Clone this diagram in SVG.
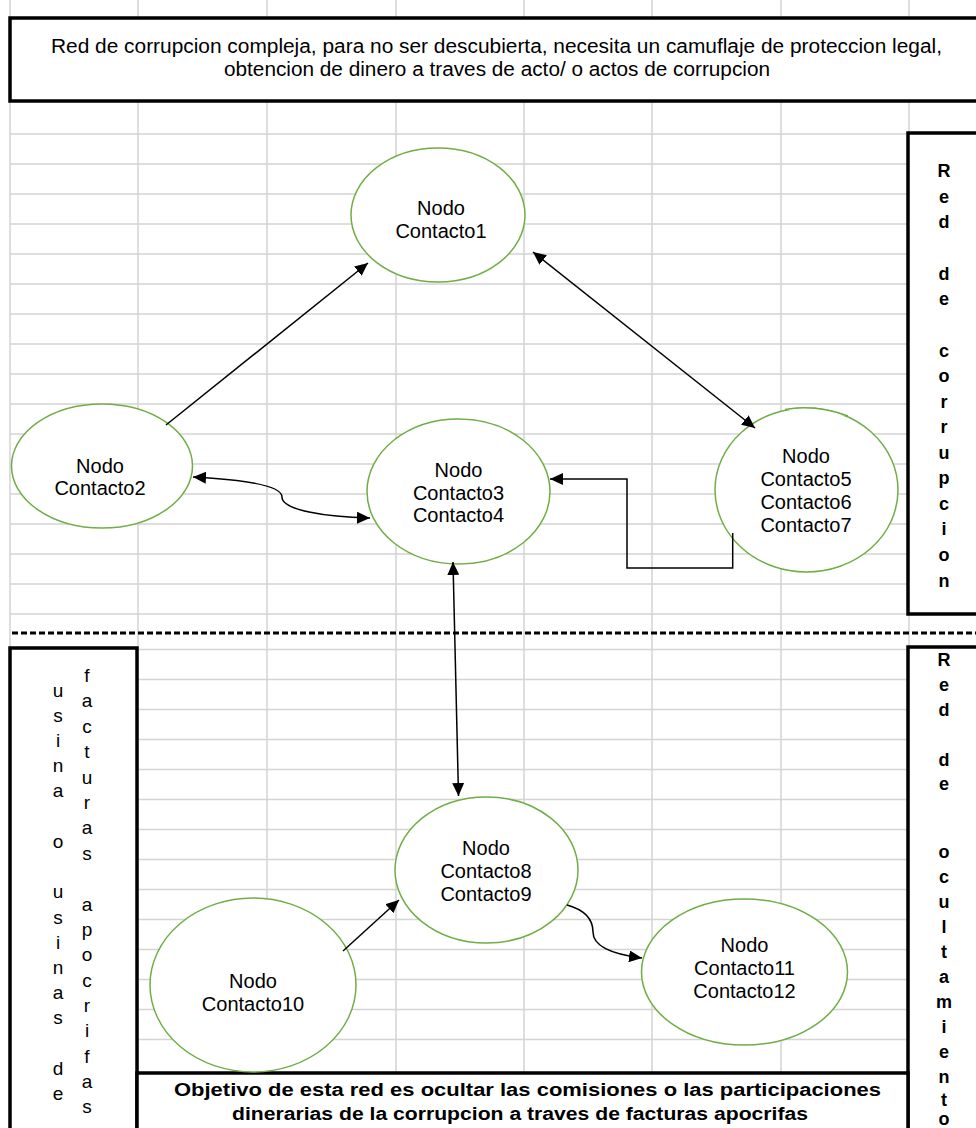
<svg xmlns="http://www.w3.org/2000/svg" width="976" height="1128" viewBox="0 0 976 1128">
<style>
.grid{stroke:#d4d4d4;stroke-width:1.5;fill:none}
.box{fill:#fff;stroke:#000;stroke-width:3.5}
.node{fill:#fff;stroke:#71ad47;stroke-width:1.5}
.nt{font-family:"Liberation Sans",Arial,sans-serif;font-size:20px;fill:#000;text-anchor:middle}
.hd{font-family:"Liberation Sans",Arial,sans-serif;font-size:20px;fill:#000;text-anchor:middle}
.bt{font-family:"Liberation Sans",Arial,sans-serif;font-size:18px;font-weight:bold;fill:#000;text-anchor:middle}
.vt{font-family:"Liberation Sans",Arial,sans-serif;font-size:19px;fill:#000;text-anchor:middle}
.vb{font-family:"Liberation Sans",Arial,sans-serif;font-size:18px;font-weight:bold;fill:#000;text-anchor:middle}
.con{fill:none;stroke:#000;stroke-width:1.5}
</style>
<defs>
<marker id="ah" markerUnits="userSpaceOnUse" markerWidth="14" markerHeight="12" refX="13" refY="6" orient="auto-start-reverse">
<path d="M0,0 L13,6 L0,12 z" fill="#000"/>
</marker>
</defs>
<rect width="976" height="1128" fill="#fff"/>
<g id="grid" class="grid">
<path d="M10,0V1128M138,0V1128M267,0V1128M396,0V1128M524,0V1128M652,0V1128M781,0V1128M909,0V1128"/>
<path d="M10,134H976M10,164H976M10,194H976M10,224H976M10,254H976M10,284H976M10,314H976M10,344H976M10,374H976M10,404H976M10,434H976M10,464H976M10,494H976M10,524H976M10,554H976M10,584H976M10,614H976"/>
<path d="M10,649.5H976M10,679.5H976M10,709.5H976M10,739.5H976M10,769.5H976M10,799.5H976M10,829.5H976M10,859.5H976M10,889.5H976M10,919.5H976M10,949.5H976M10,979.5H976M10,1009.5H976M10,1039.5H976"/>
</g>
<g id="header">
<rect class="box" x="10" y="18" width="980" height="83"/>
<text class="hd" x="496.5" y="53" textLength="891" lengthAdjust="spacingAndGlyphs">Red de corrupcion compleja, para no ser descubierta,  necesita un camuflaje de proteccion legal,</text>
<text class="hd" x="497" y="75.5" textLength="546" lengthAdjust="spacingAndGlyphs">obtencion de dinero a traves de acto/ o actos de corrupcion</text>
</g>
<g id="label-red-corrupcion">
<rect class="box" x="908" y="133" width="80" height="481"/>
<text class="vb"><tspan x="944" y="177">R</tspan><tspan x="944" y="203">e</tspan><tspan x="944" y="228">d</tspan><tspan x="944" y="280">d</tspan><tspan x="944" y="305">e</tspan><tspan x="944" y="357">c</tspan><tspan x="944" y="382">o</tspan><tspan x="944" y="408">r</tspan><tspan x="944" y="433">r</tspan><tspan x="944" y="459">u</tspan><tspan x="944" y="484">p</tspan><tspan x="944" y="510">c</tspan><tspan x="944" y="535">i</tspan><tspan x="944" y="561">o</tspan><tspan x="944" y="587">n</tspan></text>
</g>
<line x1="12" y1="633" x2="976" y2="633" stroke="#000" stroke-width="3" stroke-dasharray="6 3"/>
<g id="label-usinas">
<rect class="box" x="10" y="648" width="127" height="500"/>
<text class="vt"><tspan x="58" y="697">u</tspan><tspan x="58" y="722">s</tspan><tspan x="58" y="747">i</tspan><tspan x="58" y="772">n</tspan><tspan x="58" y="797">a</tspan><tspan x="58" y="848">o</tspan><tspan x="58" y="898">u</tspan><tspan x="58" y="924">s</tspan><tspan x="58" y="949">i</tspan><tspan x="58" y="974">n</tspan><tspan x="58" y="999">a</tspan><tspan x="58" y="1024">s</tspan><tspan x="58" y="1075">d</tspan><tspan x="58" y="1100">e</tspan></text>
<text class="vt"><tspan x="87" y="682">f</tspan><tspan x="87" y="707">a</tspan><tspan x="87" y="733">c</tspan><tspan x="87" y="758">t</tspan><tspan x="87" y="784">u</tspan><tspan x="87" y="809">r</tspan><tspan x="87" y="834">a</tspan><tspan x="87" y="860">s</tspan><tspan x="87" y="911">a</tspan><tspan x="87" y="936">p</tspan><tspan x="87" y="961">o</tspan><tspan x="87" y="987">c</tspan><tspan x="87" y="1012">r</tspan><tspan x="87" y="1037">i</tspan><tspan x="87" y="1063">f</tspan><tspan x="87" y="1088">a</tspan><tspan x="87" y="1113">s</tspan></text>
</g>
<g id="label-red-ocultamiento">
<rect class="box" x="908" y="647" width="80" height="500"/>
<text class="vb"><tspan x="944" y="666">R</tspan><tspan x="944" y="691">e</tspan><tspan x="944" y="716">d</tspan><tspan x="944" y="766">d</tspan><tspan x="944" y="790">e</tspan><tspan x="944" y="858">o</tspan><tspan x="944" y="883">c</tspan><tspan x="944" y="908">u</tspan><tspan x="944" y="933">l</tspan><tspan x="944" y="958">t</tspan><tspan x="944" y="983">a</tspan><tspan x="944" y="1008">m</tspan><tspan x="944" y="1033">i</tspan><tspan x="944" y="1058">e</tspan><tspan x="944" y="1083">n</tspan><tspan x="944" y="1106">t</tspan><tspan x="944" y="1125">o</tspan></text>
</g>
<g id="footer">
<rect class="box" x="137" y="1073" width="771" height="80"/>
<text class="bt" x="527.5" y="1096" textLength="707" lengthAdjust="spacingAndGlyphs">Objetivo de esta red es ocultar  las comisiones o las participaciones</text>
<text class="bt" x="520" y="1120" textLength="576" lengthAdjust="spacingAndGlyphs">dinerarias de la corrupcion a traves de facturas apocrifas</text>
</g>
<g id="node-contacto1">
<ellipse class="node" cx="438" cy="215" rx="87" ry="67"/>
<text class="nt"><tspan x="441" y="215">Nodo</tspan><tspan x="441" y="238">Contacto1</tspan></text>
</g>
<g id="node-contacto2">
<ellipse class="node" cx="102" cy="466" rx="90.5" ry="62"/>
<text class="nt"><tspan x="100" y="473">Nodo</tspan><tspan x="100" y="495">Contacto2</tspan></text>
</g>
<g id="node-contacto3">
<ellipse class="node" cx="458.5" cy="491.5" rx="91.5" ry="72.5"/>
<text class="nt"><tspan x="458.5" y="477">Nodo</tspan><tspan x="458.5" y="499.5">Contacto3</tspan><tspan x="458.5" y="522">Contacto4</tspan></text>
</g>
<g id="node-contacto5">
<ellipse class="node" cx="806.5" cy="490" rx="91.5" ry="82"/>
<path class="node" fill="none" d="M785,409.5 Q815,404 848,416"/>
<text class="nt"><tspan x="806" y="463">Nodo</tspan><tspan x="806" y="486">Contacto5</tspan><tspan x="806" y="508.5">Contacto6</tspan><tspan x="806" y="531.5">Contacto7</tspan></text>
</g>
<g id="node-contacto8">
<ellipse class="node" cx="486.5" cy="870" rx="91.5" ry="73"/>
<text class="nt"><tspan x="486" y="855">Nodo</tspan><tspan x="486" y="878">Contacto8</tspan><tspan x="486" y="901">Contacto9</tspan></text>
</g>
<g id="node-contacto10">
<ellipse class="node" cx="253" cy="985" rx="103" ry="87"/>
<text class="nt"><tspan x="253" y="988">Nodo</tspan><tspan x="253" y="1011">Contacto10</tspan></text>
</g>
<g id="node-contacto11">
<ellipse class="node" cx="744.5" cy="972" rx="103" ry="73"/>
<text class="nt"><tspan x="744.5" y="952">Nodo</tspan><tspan x="744.5" y="975">Contacto11</tspan><tspan x="744.5" y="998">Contacto12</tspan></text>
</g>
<g id="connectors">
<path class="con" d="M166,425 L368,263" marker-end="url(#ah)"/>
<path class="con" d="M533,252 L755,428" marker-start="url(#ah)" marker-end="url(#ah)"/>
<path class="con" d="M193,477 C250,480 282,486 282,497 C282,510 325,517 370,518" marker-start="url(#ah)" marker-end="url(#ah)"/>
<path class="con" d="M732.7,533 V568 H627 V479 H550" marker-end="url(#ah)"/>
<path class="con" d="M453,562 L458.5,796" marker-start="url(#ah)" marker-end="url(#ah)"/>
<path class="con" d="M343,951 L399,900" marker-end="url(#ah)"/>
<path class="con" d="M567,905 C585,910 593,920 593,932 C593,948 618,955 642,958" marker-end="url(#ah)"/>
</g>
</svg>
